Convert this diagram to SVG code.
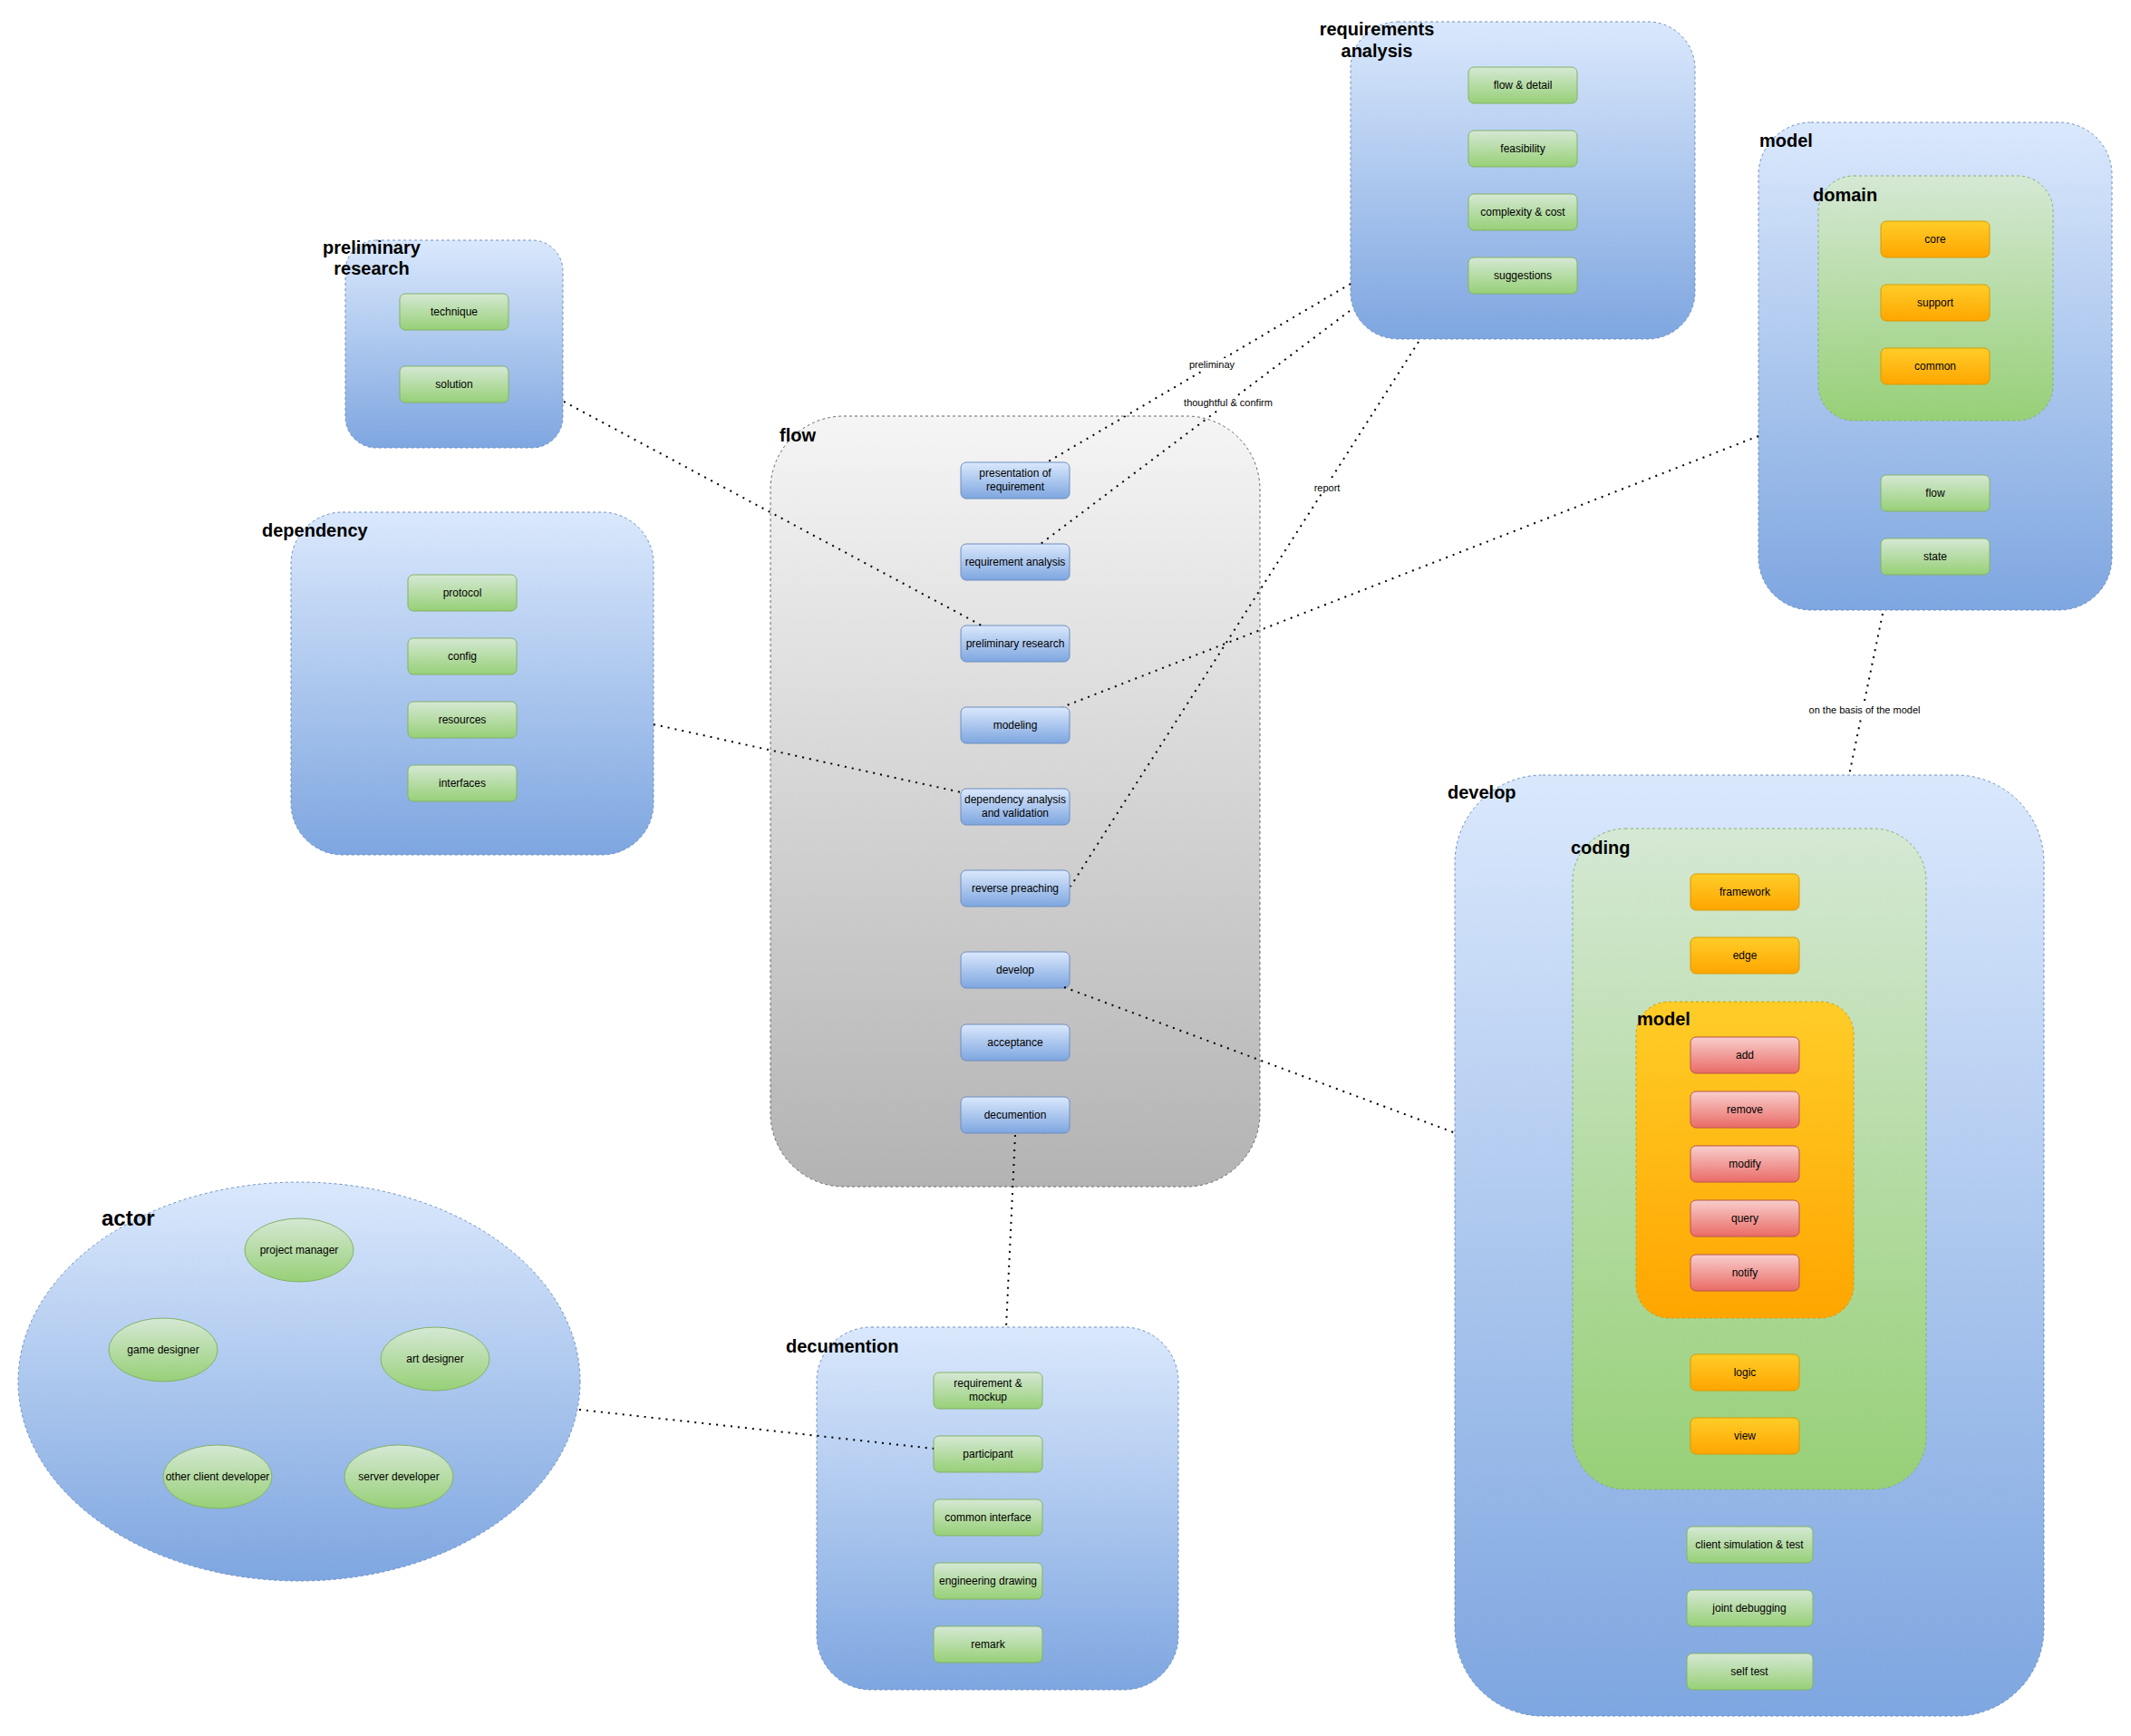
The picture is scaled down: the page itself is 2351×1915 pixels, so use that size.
<svg xmlns="http://www.w3.org/2000/svg" width="2351" height="1915" viewBox="0 0 2351 1915">
<defs>
<linearGradient id="gBlue" x1="0" y1="0" x2="0" y2="1"><stop offset="0" stop-color="#dae8fc"/><stop offset="1" stop-color="#7ea6e0"/></linearGradient>
<linearGradient id="gGreen" x1="0" y1="0" x2="0" y2="1"><stop offset="0" stop-color="#d5e8d4"/><stop offset="1" stop-color="#97d077"/></linearGradient>
<linearGradient id="gOrange" x1="0" y1="0" x2="0" y2="1"><stop offset="0" stop-color="#ffcd28"/><stop offset="1" stop-color="#ffa500"/></linearGradient>
<linearGradient id="gRed" x1="0" y1="0" x2="0" y2="1"><stop offset="0" stop-color="#f8cecc"/><stop offset="1" stop-color="#ea6b66"/></linearGradient>
<linearGradient id="gGray" x1="0" y1="0" x2="0" y2="1"><stop offset="0" stop-color="#f5f5f5"/><stop offset="1" stop-color="#b3b3b3"/></linearGradient>
<style>
.cb{fill:url(#gBlue);stroke:#6c8ebf;stroke-dasharray:3 3}
.cg{fill:url(#gGreen);stroke:#82b366;stroke-dasharray:3 3}
.co{fill:url(#gOrange);stroke:#d79b00;stroke-dasharray:3 3}
.cy{fill:url(#gGray);stroke:#666666;stroke-dasharray:3 3}
.nb{fill:url(#gBlue);stroke:#6c8ebf}
.ng{fill:url(#gGreen);stroke:#82b366}
.no{fill:url(#gOrange);stroke:#d79b00}
.nr{fill:url(#gRed);stroke:#b85450}
text{font-family:"Liberation Sans",Arial,sans-serif;fill:#000}
.t{font-size:12px;text-anchor:middle}
.h{font-size:20px;font-weight:bold}
.hc{font-size:20px;font-weight:bold;text-anchor:middle}
.ha{font-size:24px;font-weight:bold}
.e{stroke:#000;stroke-width:2;stroke-dasharray:2 6;fill:none}
.el{font-size:11px;text-anchor:middle}
.lb{fill:#fff}
</style>
</defs>

<g id="preliminary-research">
<rect class="cb" x="381" y="265" width="240" height="229" rx="34"/>
<text class="hc" x="410" y="280">preliminary</text>
<text class="hc" x="410" y="303">research</text>
<g id="pr-technique"><rect class="ng" x="441" y="324" width="120" height="40" rx="6"/><text class="t" x="501" y="348">technique</text></g>
<g id="pr-solution"><rect class="ng" x="441" y="404" width="120" height="40" rx="6"/><text class="t" x="501" y="428">solution</text></g>
</g>

<g id="requirements-analysis">
<rect class="cb" x="1490" y="24" width="380" height="350" rx="52"/>
<text class="hc" x="1519" y="39">requirements</text>
<text class="hc" x="1519" y="63">analysis</text>
<g id="ra-flow-detail"><rect class="ng" x="1620" y="74" width="120" height="40" rx="6"/><text class="t" x="1680" y="98">flow &amp; detail</text></g>
<g id="ra-feasibility"><rect class="ng" x="1620" y="144" width="120" height="40" rx="6"/><text class="t" x="1680" y="168">feasibility</text></g>
<g id="ra-complexity"><rect class="ng" x="1620" y="214" width="120" height="40" rx="6"/><text class="t" x="1680" y="238">complexity &amp; cost</text></g>
<g id="ra-suggestions"><rect class="ng" x="1620" y="284" width="120" height="40" rx="6"/><text class="t" x="1680" y="308">suggestions</text></g>
</g>

<g id="model">
<rect class="cb" x="1940" y="135" width="390" height="538" rx="58"/>
<text class="h" x="1941" y="162">model</text>
<g id="domain">
<rect class="cg" x="2006" y="194" width="259" height="270" rx="39"/>
<text class="h" x="2000" y="222">domain</text>
<g id="d-core"><rect class="no" x="2075" y="244" width="120" height="40" rx="6"/><text class="t" x="2135" y="268">core</text></g>
<g id="d-support"><rect class="no" x="2075" y="314" width="120" height="40" rx="6"/><text class="t" x="2135" y="338">support</text></g>
<g id="d-common"><rect class="no" x="2075" y="384" width="120" height="40" rx="6"/><text class="t" x="2135" y="408">common</text></g>
</g>
<g id="m-flow"><rect class="ng" x="2075" y="524" width="120" height="40" rx="6"/><text class="t" x="2135" y="548">flow</text></g>
<g id="m-state"><rect class="ng" x="2075" y="594" width="120" height="40" rx="6"/><text class="t" x="2135" y="618">state</text></g>
</g>

<g id="dependency">
<rect class="cb" x="321" y="565" width="400" height="378" rx="57"/>
<text class="h" x="289" y="592">dependency</text>
<g id="dp-protocol"><rect class="ng" x="450" y="634" width="120" height="40" rx="6"/><text class="t" x="510" y="658">protocol</text></g>
<g id="dp-config"><rect class="ng" x="450" y="704" width="120" height="40" rx="6"/><text class="t" x="510" y="728">config</text></g>
<g id="dp-resources"><rect class="ng" x="450" y="774" width="120" height="40" rx="6"/><text class="t" x="510" y="798">resources</text></g>
<g id="dp-interfaces"><rect class="ng" x="450" y="844" width="120" height="40" rx="6"/><text class="t" x="510" y="868">interfaces</text></g>
</g>

<g id="flow">
<rect class="cy" x="850" y="459" width="540" height="850" rx="81"/>
<text class="h" x="860" y="487">flow</text>
<g id="f-presentation"><rect class="nb" x="1060" y="510" width="120" height="40" rx="6"/><text class="t" x="1120" y="526">presentation of</text><text class="t" x="1120" y="541">requirement</text></g>
<g id="f-req-analysis"><rect class="nb" x="1060" y="600" width="120" height="40" rx="6"/><text class="t" x="1120" y="624">requirement analysis</text></g>
<g id="f-prelim"><rect class="nb" x="1060" y="690" width="120" height="40" rx="6"/><text class="t" x="1120" y="714">preliminary research</text></g>
<g id="f-modeling"><rect class="nb" x="1060" y="780" width="120" height="40" rx="6"/><text class="t" x="1120" y="804">modeling</text></g>
<g id="f-dependency"><rect class="nb" x="1060" y="870" width="120" height="40" rx="6"/><text class="t" x="1120" y="886">dependency analysis</text><text class="t" x="1120" y="901">and validation</text></g>
<g id="f-reverse"><rect class="nb" x="1060" y="960" width="120" height="40" rx="6"/><text class="t" x="1120" y="984">reverse preaching</text></g>
<g id="f-develop"><rect class="nb" x="1060" y="1050" width="120" height="40" rx="6"/><text class="t" x="1120" y="1074">develop</text></g>
<g id="f-acceptance"><rect class="nb" x="1060" y="1130" width="120" height="40" rx="6"/><text class="t" x="1120" y="1154">acceptance</text></g>
<g id="f-decumention"><rect class="nb" x="1060" y="1210" width="120" height="40" rx="6"/><text class="t" x="1120" y="1234">decumention</text></g>
</g>

<g id="develop">
<rect class="cb" x="1605" y="855" width="650" height="1038" rx="97"/>
<text class="h" x="1597" y="881">develop</text>
<g id="coding">
<rect class="cg" x="1735" y="914" width="390" height="729" rx="58"/>
<text class="h" x="1733" y="942">coding</text>
<g id="c-framework"><rect class="no" x="1865" y="964" width="120" height="40" rx="6"/><text class="t" x="1925" y="988">framework</text></g>
<g id="c-edge"><rect class="no" x="1865" y="1034" width="120" height="40" rx="6"/><text class="t" x="1925" y="1058">edge</text></g>
<g id="c-model">
<rect class="co" x="1805" y="1105" width="240" height="349" rx="36"/>
<text class="h" x="1806" y="1131">model</text>
<g id="cm-add"><rect class="nr" x="1865" y="1144" width="120" height="40" rx="6"/><text class="t" x="1925" y="1168">add</text></g>
<g id="cm-remove"><rect class="nr" x="1865" y="1204" width="120" height="40" rx="6"/><text class="t" x="1925" y="1228">remove</text></g>
<g id="cm-modify"><rect class="nr" x="1865" y="1264" width="120" height="40" rx="6"/><text class="t" x="1925" y="1288">modify</text></g>
<g id="cm-query"><rect class="nr" x="1865" y="1324" width="120" height="40" rx="6"/><text class="t" x="1925" y="1348">query</text></g>
<g id="cm-notify"><rect class="nr" x="1865" y="1384" width="120" height="40" rx="6"/><text class="t" x="1925" y="1408">notify</text></g>
</g>
<g id="c-logic"><rect class="no" x="1865" y="1494" width="120" height="40" rx="6"/><text class="t" x="1925" y="1518">logic</text></g>
<g id="c-view"><rect class="no" x="1865" y="1564" width="120" height="40" rx="6"/><text class="t" x="1925" y="1588">view</text></g>
</g>
<g id="dv-client-sim"><rect class="ng" x="1861" y="1684" width="139" height="40" rx="6"/><text class="t" x="1930" y="1708">client simulation &amp; test</text></g>
<g id="dv-joint"><rect class="ng" x="1861" y="1754" width="139" height="40" rx="6"/><text class="t" x="1930" y="1778">joint debugging</text></g>
<g id="dv-self"><rect class="ng" x="1861" y="1824" width="139" height="40" rx="6"/><text class="t" x="1930" y="1848">self test</text></g>
</g>

<g id="decumention">
<rect class="cb" x="901" y="1464" width="399" height="400" rx="60"/>
<text class="h" x="867" y="1492">decumention</text>
<g id="dc-req"><rect class="ng" x="1030" y="1514" width="120" height="40" rx="6"/><text class="t" x="1090" y="1530">requirement &amp;</text><text class="t" x="1090" y="1545">mockup</text></g>
<g id="dc-participant"><rect class="ng" x="1030" y="1584" width="120" height="40" rx="6"/><text class="t" x="1090" y="1608">participant</text></g>
<g id="dc-common"><rect class="ng" x="1030" y="1654" width="120" height="40" rx="6"/><text class="t" x="1090" y="1678">common interface</text></g>
<g id="dc-eng"><rect class="ng" x="1030" y="1724" width="120" height="40" rx="6"/><text class="t" x="1090" y="1748">engineering drawing</text></g>
<g id="dc-remark"><rect class="ng" x="1030" y="1794" width="120" height="40" rx="6"/><text class="t" x="1090" y="1818">remark</text></g>
</g>

<g id="actor">
<ellipse class="cb" cx="330" cy="1524" rx="310" ry="220"/>
<text class="ha" x="112" y="1352">actor</text>
<g id="a-pm"><ellipse class="ng" cx="330" cy="1379" rx="60" ry="35"/><text class="t" x="330" y="1383">project manager</text></g>
<g id="a-gd"><ellipse class="ng" cx="180" cy="1489" rx="60" ry="35"/><text class="t" x="180" y="1493">game designer</text></g>
<g id="a-ad"><ellipse class="ng" cx="480" cy="1499" rx="60" ry="35"/><text class="t" x="480" y="1503">art designer</text></g>
<g id="a-ocd"><ellipse class="ng" cx="240" cy="1629" rx="60" ry="35"/><text class="t" x="240" y="1633">other client developer</text></g>
<g id="a-sd"><ellipse class="ng" cx="440" cy="1629" rx="60" ry="35"/><text class="t" x="440" y="1633">server developer</text></g>
</g>

<g id="connectors">
<path class="e" d="M1490,313 L1155,510"/>
<path class="e" d="M1489,343 L1148,600"/>
<path class="e" d="M1565,377 L1181,978"/>
<path class="e" d="M622,443 L1083,690"/>
<path class="e" d="M1940,481 L1172,780"/>
<path class="e" d="M721,799 L1060,874"/>
<path class="e" d="M1174,1089 L1606,1250"/>
<path class="e" d="M1120,1252 L1110,1464"/>
<path class="e" d="M639,1555 L1030,1598"/>
<path class="e" d="M2077,677 L2040,855"/>
<rect class="lb" x="1310" y="395" width="54" height="14"/>
<text class="el" x="1337" y="406">preliminay</text>
<rect class="lb" x="1302" y="437" width="106" height="14"/>
<text class="el" x="1355" y="448">thoughtful &amp; confirm</text>
<rect class="lb" x="1448" y="531" width="32" height="14"/>
<text class="el" x="1464" y="542">report</text>
<rect class="lb" x="1990" y="776" width="134" height="14"/>
<text class="el" x="2057" y="787">on the basis of the model</text>
</g>
</svg>
